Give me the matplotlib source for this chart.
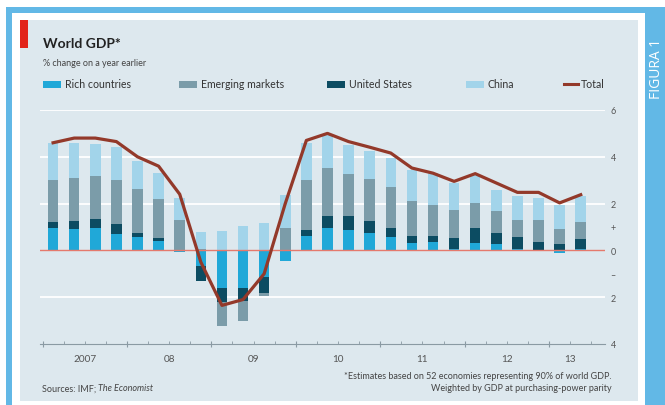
import matplotlib
matplotlib.use("Agg")
import matplotlib.pyplot as plt
import numpy as np
from matplotlib.patches import Rectangle
from matplotlib.lines import Line2D

plt.rcParams["font.family"] = ["Lato", "DejaVu Sans"]

# Quarterly contributions to world GDP growth, 2007Q1 - 2013Q2 (percentage points)
quarters = [f"{y}Q{q}" for y in range(2007, 2014) for q in range(1, 5)][:26]
rich = [0.97, 0.90, 0.97, 0.72, 0.58, 0.40, -0.05, -0.67, -1.62, -1.59, -1.13, -0.45, 0.61,
        0.97, 0.89, 0.75, 0.58, 0.33, 0.37, 0.05, 0.33, 0.26, 0.05, 0.00, -0.12, 0.05]
united_states = [0.23, 0.35, 0.38, 0.39, 0.17, 0.14, 0.00, -0.63, -0.60, -0.57, -0.70, 0.00, 0.28,
                 0.49, 0.57, 0.50, 0.39, 0.28, 0.24, 0.49, 0.61, 0.49, 0.53, 0.35, 0.26, 0.45]
emerging = [1.82, 1.84, 1.81, 1.91, 1.87, 1.67, 1.32, 0.05, -1.00, -0.84, -0.12, 0.95, 2.13,
            2.06, 1.80, 1.80, 1.72, 1.49, 1.35, 1.18, 1.09, 0.92, 0.71, 0.97, 0.66, 0.70]
china = [1.56, 1.49, 1.39, 1.39, 1.22, 1.09, 0.92, 0.75, 0.82, 1.06, 1.17, 1.41, 1.56,
         1.42, 1.25, 1.18, 1.25, 1.35, 1.34, 1.16, 1.20, 0.93, 1.02, 0.92, 1.04, 1.11]
total = [4.60, 4.80, 4.80, 4.65, 4.00, 3.60, 2.40, -0.50, -2.35, -2.10, -1.00, 2.00, 4.70,
         5.00, 4.65, 4.41, 4.16, 3.52, 3.30, 2.95, 3.28, 2.88, 2.48, 2.48, 2.03, 2.38]

series_names = ["Rich countries", "Emerging markets", "United States", "China"]
year_labels = ["2007", "08", "09", "10", "11", "12", "13"]

C_RICH = "#20a8d8"
C_EM = "#7b9ca9"
C_US = "#0c4c62"
C_CHINA = "#a2d4ea"
C_TOTAL = "#93392a"
C_BLUE = "#62b8e6"
C_PANEL = "#dde8ee"
C_TEXT = "#333333"

fig = plt.figure(figsize=(6.65, 4.06), dpi=100)
fig.patch.set_facecolor("white")

# page furniture drawn in pixel coordinates
bg = fig.add_axes([0, 0, 1, 1])
bg.set_xlim(0, 665)
bg.set_ylim(406, 0)
bg.axis("off")
bg.add_patch(Rectangle((6, 8), 639, 6, color=C_BLUE, lw=0))
bg.add_patch(Rectangle((6, 8), 6, 398, color=C_BLUE, lw=0))
bg.add_patch(Rectangle((645, 8), 20, 398, color=C_BLUE, lw=0))
bg.add_patch(Rectangle((20, 21), 618, 381, color=C_PANEL, lw=0))
bg.add_patch(Rectangle((20, 21), 8, 28, color="#e2231a", lw=0))

bg.text(43, 44, "World GDP*", fontsize=10, fontweight="bold", color="#222222", va="center")
bg.text(43, 63, "% change on a year earlier", fontsize=6.5, color="#444444", va="center")
bg.text(656, 69, "FIGURA 1", fontsize=10, color="white", rotation=90,
        ha="center", va="center", family=["Open Sans", "DejaVu Sans"])

# legend row
legend_items = [("patch", C_RICH, 43, series_names[0]),
                ("patch", C_EM, 179, series_names[1]),
                ("patch", C_US, 327, series_names[2]),
                ("patch", C_CHINA, 466, series_names[3]),
                ("line", C_TOTAL, 564, "Total")]
for kind, col, x0, label in legend_items:
    if kind == "patch":
        bg.add_patch(Rectangle((x0, 81.5), 18, 7, color=col, lw=0))
        bg.text(x0 + 22, 85, label, fontsize=7.6, color=C_TEXT, va="center")
    else:
        bg.add_line(Line2D([x0, x0 + 14], [85, 85], color=col, lw=2.2))
        bg.text(x0 + 17, 85, label, fontsize=7.6, color=C_TEXT, va="center")

# footnotes
bg.text(612, 377, "*Estimates based on 52 economies representing 90% of world GDP.",
        fontsize=6.5, color="#444444", ha="right", va="center")
bg.text(612, 389, "Weighted by GDP at purchasing-power parity",
        fontsize=6.5, color="#444444", ha="right", va="center")
src = bg.text(42, 389, "Sources: IMF; ", fontsize=6.5, color="#444444", va="center")
renderer = fig.canvas.get_renderer()
bb = src.get_window_extent(renderer=renderer)
bg.text(42 + bb.width * 665 / fig.bbox.width, 389, "The Economist", fontsize=6.5,
        color="#444444", va="center", fontstyle="italic")

# chart
ax = fig.add_axes([40 / 665, (406 - 345) / 406, (605 - 40) / 665, (345 - 111) / 406])
ax.set_facecolor("none")
x = np.arange(len(quarters))
width = 0.5

pos_base = np.zeros(len(x))
neg_base = np.zeros(len(x))
for vals, col in [(rich, C_RICH), (united_states, C_US), (emerging, C_EM), (china, C_CHINA)]:
    v = np.array(vals)
    pos = np.where(v > 0, v, 0)
    neg = np.where(v < 0, v, 0)
    ax.bar(x, pos, width, bottom=pos_base, color=col, lw=0, zorder=3)
    ax.bar(x, neg, width, bottom=neg_base, color=col, lw=0, zorder=3)
    pos_base += pos
    neg_base += neg

ax.plot(x, total, color=C_TOTAL, lw=2.3, solid_joinstyle="round", zorder=5)

ax.set_xlim(-0.62, 26.15)
ax.set_ylim(-4, 6)
for yv in [-2, 2, 4, 6]:
    ax.axhline(yv, color="white", lw=1.3, zorder=1)
ax.axhline(0, color="#e5796c", lw=1, zorder=4)

for side in ["top", "left", "right"]:
    ax.spines[side].set_visible(False)
ax.spines["bottom"].set_color("#8a9aa3")
ax.spines["bottom"].set_linewidth(0.8)

# y-axis labels on the right, Economist style with +/- markers
ax.yaxis.tick_right()
ax.set_yticks([-4, -2, 0, 2, 4, 6])
ax.set_yticklabels(["4", "2", "0", "2", "4", "6"])
ax.set_yticks([-1, 1], minor=True)
ax.set_yticklabels(["\u2013", "+"], minor=True)
ax.tick_params(axis="y", which="both", length=0, pad=4, labelsize=6.5, labelcolor="#555555")

# quarter ticks along the bottom axis, longer at year boundaries
ax.set_xticks(np.arange(-0.5, 26.5, 4))
ax.set_xticks(np.arange(-0.5, 26.5, 1), minor=True)
ax.set_xticklabels([])
ax.tick_params(axis="x", which="major", direction="inout", length=5, width=0.8, color="#8a9aa3")
ax.tick_params(axis="x", which="minor", direction="in", length=2.5, width=0.6, color="#8a9aa3")

year_centres = [1.5, 5.5, 9.5, 13.5, 17.5, 21.5, 24.5]
for xc, lab in zip(year_centres, year_labels):
    ax.text(xc, -0.06, lab, transform=ax.get_xaxis_transform(), ha="center", va="center",
            fontsize=7.2, color="#555555")

fig.savefig("out.png", dpi=100, facecolor=fig.get_facecolor())
